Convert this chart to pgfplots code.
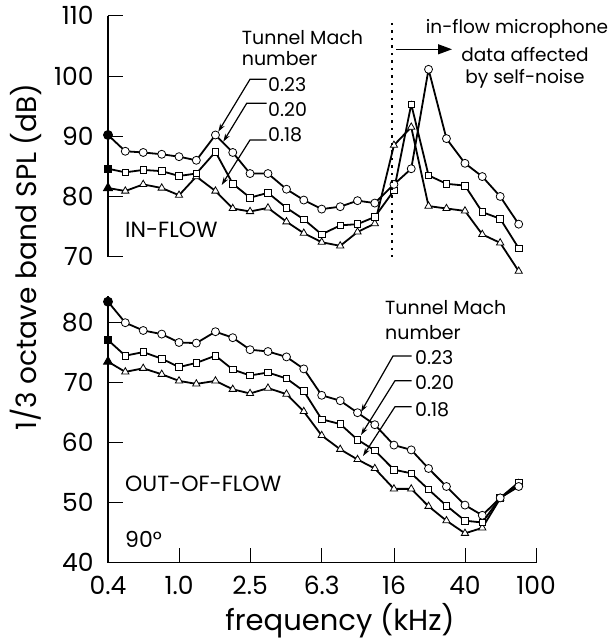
\documentclass[border=0pt]{standalone}
\usepackage{fontspec}
\setmainfont{Poppins}
\usepackage{pgfplots}
\usepackage{pgfplotstable}
\pgfplotsset{compat=1.18}
\usetikzlibrary{arrows.meta}

\pgfplotstableread{
f     m23   m20   m18
0.4   90.2  84.6  81.4
0.5   87.5  84.0  80.9
0.63  87.3  84.4  82.0
0.8   87.0  84.2  81.4
1.0   86.6  83.4  80.2
1.25  86.0  83.8  83.3
1.6   90.2  87.4  80.9
2.0   87.3  82.1  78.0
2.5   83.8  79.8  77.5
3.15  83.8  80.6  78.1
4.0   81.2  78.1  75.8
5.0   79.4  76.2  73.9
6.3   77.9  73.7  72.4
8.0   78.3  75.2  71.8
10    79.3  75.4  74.1
12.5  78.9  76.6  75.5
16    82.0  81.0  88.5
20    84.6  95.3  91.5
25    101.1 83.5  78.4
31.5  89.6  82.1  78.0
40    85.5  81.8  77.6
50    83.3  77.4  73.7
63    80.0  76.3  72.3
80    75.4  71.4  67.6
}\inflow

\pgfplotstableread{
f     m23   m20   m18
0.4   83.5  77.1  73.5
0.5   80.0  74.5  71.8
0.63  78.7  75.1  72.4
0.8   78.1  74.0  71.4
1.0   76.7  72.6  70.3
1.25  76.6  73.3  69.8
1.6   78.5  74.5  70.3
2.0   77.5  72.2  68.9
2.5   75.5  71.2  68.2
3.15  75.2  71.7  69.1
4.0   74.3  70.7  68.1
5.0   72.3  68.6  65.2
6.3   67.9  63.9  61.2
8.0   67.0  63.1  58.9
10    65.0  60.5  57.2
12.5  63.0  58.7  55.7
16    59.6  55.5  52.3
20    58.8  54.9  52.3
25    55.7  52.2  49.4
31.5  52.7  49.5  47.0
40    49.6  47.0  44.9
50    47.9  46.7  45.8
63    50.8  50.8  50.7
80    52.7  53.4  53.2
}\outflow

\tikzset{
  ser23/.style={black, line width=1.8pt, mark=*, mark size=4pt,
    mark options={solid, fill=white, draw=black, line width=0.8pt}},
  ser20/.style={black, line width=1.8pt, mark=square*, mark size=3.3pt,
    mark options={solid, fill=white, draw=black, line width=0.8pt}},
  ser18/.style={black, line width=1.8pt, mark=triangle*, mark size=4.2pt,
    mark options={solid, fill=white, draw=black, line width=0.8pt}},
  firstpt/.style={only marks, mark indices={1}, mark options={solid, fill=black, draw=black}},
}

\begin{document}
\begin{tikzpicture}[x=1pt,y=1pt]
\useasboundingbox (0,0) rectangle (614,643);

% top panel: in-flow
\begin{axis}[
  at={(108pt,386.3pt)}, anchor=south west,
  xmode=log, xmin=0.4, xmax=100,
  scale only axis, width=428pt, height=241pt,
  ymin=70, ymax=110,
  clip=false,
  axis x line=none, axis y line*=left,
  tick align=inside, major tick length=15pt,
  yminorticks=false,
  axis line style={line width=1.6pt},
  major tick style={black, line width=0.8pt},
  yticklabel style={font=\fontsize{25}{28}\selectfont, xshift=-11pt},
  ytick={70,80,90,100,110},
  yticklabels={70,80,90,100,110},
]
\addplot[ser18] table[x=f,y=m18] {\inflow};
\addplot[ser20] table[x=f,y=m20] {\inflow};
\addplot[ser23] table[x=f,y=m23] {\inflow};
\addplot[ser18, firstpt] table[x=f,y=m18] {\inflow};
\addplot[ser20, firstpt] table[x=f,y=m20] {\inflow};
\addplot[ser23, firstpt] table[x=f,y=m23] {\inflow};
\end{axis}

% bottom panel: out-of-flow
\begin{axis}[
  at={(108pt,80.3pt)}, anchor=south west,
  xmode=log, xmin=0.4, xmax=100,
  scale only axis, width=428pt, height=267pt,
  ymin=40, ymax=84.5,
  clip=false,
  axis x line*=bottom, axis y line*=left,
  tick align=inside, major tick length=15pt,
  xminorticks=false, yminorticks=false,
  axis line style={line width=1.6pt},
  major tick style={black, line width=0.8pt},
  yticklabel style={font=\fontsize{25}{28}\selectfont, xshift=-11pt},
  xticklabel style={font=\fontsize{25}{28}\selectfont, yshift=-10pt},
  ytick={40,50,60,70,80},
  yticklabels={40,50,60,70,80},
  xtick={0.4,1,2.5,6.3,16,40,100},
  xticklabels={0.4,1.0,2.5,6.3,16,40,100},
]
\addplot[ser18] table[x=f,y=m18] {\outflow};
\addplot[ser20] table[x=f,y=m20] {\outflow};
\addplot[ser23] table[x=f,y=m23] {\outflow};
\addplot[ser18, firstpt] table[x=f,y=m18] {\outflow};
\addplot[ser20, firstpt] table[x=f,y=m20] {\outflow};
\addplot[ser23, firstpt] table[x=f,y=m23] {\outflow};
\end{axis}

% axis titles
\node[rotate=90, font=\fontsize{28}{32}\selectfont] at (26,386) {1/3 octave band SPL (dB)};
\node[font=\fontsize{29}{32}\selectfont] at (340,22) {frequency (kHz)};

% dotted divider and note
\draw[line width=2pt, dash pattern=on 2.5pt off 5pt] (392,620) -- (392,386);
\draw[line width=1.3pt, -{Triangle[length=14pt,width=10pt]}] (396,593.7) -- (452,593.7);
\begin{scope}[every node/.style={font=\fontsize{19}{22}\selectfont, inner sep=0pt}]
\node[anchor=base, font=\fontsize{18.5}{21}\selectfont] at (517,609) {in-flow microphone};
\node[anchor=base, font=\fontsize{18.5}{21}\selectfont] at (525,581) {data affected};
\node[anchor=base, font=\fontsize{18.5}{21}\selectfont] at (525,559) {by self-noise};

\node[anchor=base west] at (125,405) {\fontsize{22}{24}\selectfont IN-FLOW};
\node[anchor=base west] at (125,151.3) {\fontsize{22}{24}\selectfont OUT-OF-FLOW};
\node[anchor=base west] at (125,95) {\fontsize{22}{24}\selectfont 90°};

% top legend annotation
\node[anchor=base west] at (241.7,598) {Tunnel Mach};
\node[anchor=base west] at (241.7,577) {number};
\node[anchor=base west] at (268,551.3) {0.23};
\node[anchor=base west] at (268,526) {0.20};
\node[anchor=base west] at (268,501.3) {0.18};

% bottom legend annotation
\node[anchor=base west] at (385,328) {Tunnel Mach};
\node[anchor=base west] at (385,303) {number};
\node[anchor=base west] at (415,278) {0.23};
\node[anchor=base west] at (415,253) {0.20};
\node[anchor=base west] at (415,226.3) {0.18};
\end{scope}

\begin{scope}[line width=1.2pt, -{Stealth[length=8pt,width=5pt]}]
\draw (266.7,563.7) -- (250,563.7) -- (218.3,511.3);
\draw (266.7,539.7) -- (246.7,539.7) -- (223.3,501.3);
\draw (266.7,503) -- (250,503) -- (221.7,458);
\draw (411.7,287) -- (393,287) -- (361,231);
\draw (411.7,262.3) -- (395,262.3) -- (361,208);
\draw (411.7,236.3) -- (395,236.3) -- (363,187);
\end{scope}
\end{tikzpicture}
\end{document}
